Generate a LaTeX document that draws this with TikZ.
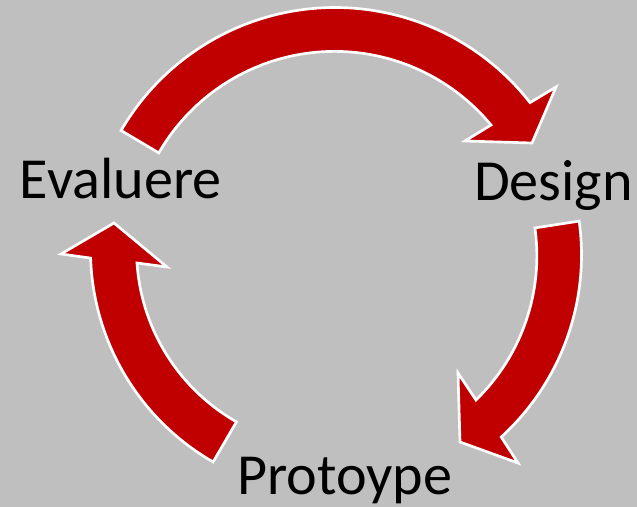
\documentclass[tikz,border=0pt]{standalone}
\usepackage{fontspec}
\setmainfont{Carlito}
\definecolor{bg}{HTML}{BFBFBF}
\definecolor{arrowred}{HTML}{C00000}
\tikzset{
  x=0.75pt,y=0.75pt,
  cyclearrow/.style={fill=arrowred,draw=white,line width=2pt,line join=miter,miter limit=10},
  lbl/.style={anchor=base west,inner sep=0pt,outer sep=0pt,text=black,font=\fontsize{43.6pt}{50pt}\selectfont}
}
\begin{document}
\begin{tikzpicture}
\useasboundingbox (0,0) rectangle (637,507);
\fill[bg] (0,0) rectangle (637,507);
\coordinate (c) at (335,252);
\coordinate (d) at (335,257);
% top arrow
\draw[cyclearrow] (c) ++(149.8:247.5) arc[start angle=149.8,end angle=38,radius=247.5]
  -- (556,420) -- (532,364) -- (465,366) -- (491,382)
  arc[start angle=39.6,end angle=150,radius=203] -- cycle;
% right arrow
\draw[cyclearrow] (c) ++(7.9:246.5) arc[start angle=7.9,end angle=-47.6,radius=246.5]
  -- (518,44) -- (460,65) -- (458,134) -- (476,107)
  arc[start angle=-45.8,end angle=8,radius=201] -- cycle;
% left arrow
\draw[cyclearrow] (d) ++(240.1:244.5) arc[start angle=240.1,end angle=181.9,radius=244.5]
  -- (61,253) -- (114,284) -- (167,240) -- (137,244)
  arc[start angle=183.8,end angle=240.3,radius=198] -- cycle;
\node[lbl] (evaluere) at (20,308) {Evaluere};
\node[lbl] (design) at (474,306) {Design};
\node[lbl] (protoype) at (237,12) {Protoype};
\end{tikzpicture}
\end{document}
